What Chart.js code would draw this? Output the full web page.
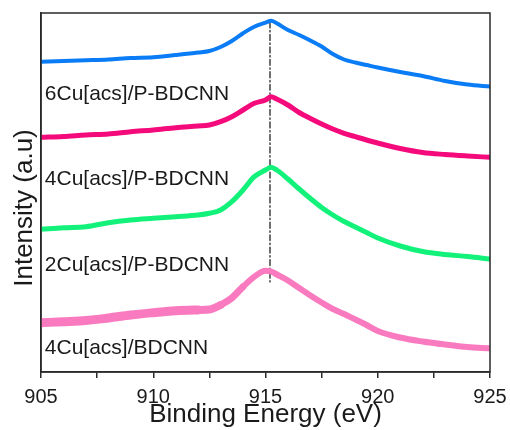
<!DOCTYPE html>
<html>
<head>
<meta charset="utf-8">
<script src="https://cdn.jsdelivr.net/npm/chart.js@4.4.1/dist/chart.umd.min.js"></script>
<style>
  html, body { margin: 0; padding: 0; background: #fff; }
  #wrap { width: 510px; height: 430px; }
</style>
</head>
<body>
<div id="wrap"><canvas id="xps"></canvas></div>
<script>
// Cu 2p XPS spectra, stacked with vertical offsets (arbitrary units)
var energy = [905, 906, 907, 908, 909, 910, 911, 912, 912.5, 913, 913.5, 914, 914.5, 915, 915.25,
              915.5, 916, 916.5, 917, 917.5, 918, 918.5, 919, 919.5, 920, 921, 922, 923, 924, 925];

var cu6P = [310.3, 311, 311.7, 312.5, 314, 314.7, 317, 319.5, 321, 325, 331, 338.7, 345.3, 349.3, 351.3,
            348.7, 342, 337, 331.5, 325.5, 318, 312.5, 309.5, 307, 304.5, 300, 296, 291, 287.5, 285.5];
var cu4P = [234.7, 235.5, 237, 238, 240.3, 242, 244.3, 246, 247, 250.3, 255.3, 262, 268.7, 272, 275.3,
            273, 267, 259.5, 253.5, 248, 243, 238.7, 235.3, 232, 229, 223.5, 219.5, 217.5, 216, 214.7];
var cu2P = [142.7, 144.3, 145.3, 149.3, 152, 153.7, 155.3, 157, 158.7, 162, 170.3, 182, 195.3, 202, 204.7,
            202, 193, 183, 173.5, 164.5, 157, 150.5, 145, 139.5, 134, 126, 120.5, 117.5, 115.5, 113];
var cu4 = [49.3, 50.3, 51.5, 54, 57, 59.3, 61.3, 62, 62.5, 67, 74, 85.3, 95.3, 101.3, 100.5,
           97.5, 91.5, 84, 76.5, 69.5, 63, 58, 52.5, 47, 41, 34.5, 30.5, 27.5, 25, 23.7];

var sampleNames = ['6Cu[acs]/P-BDCNN', '4Cu[acs]/P-BDCNN', '2Cu[acs]/P-BDCNN', '4Cu[acs]/BDCNN'];
var peakEnergy = 915.2;

function pts(ys) {
    return ys.map(function(y, i) { return { x: energy[i], y: y }; });
}

var FONT = '"Liberation Sans", Arial, sans-serif';

// sample names under each spectrum + rotated y title
var nameY = [277.7, 193, 106.3, 23.7];
var sampleLabels = {
    id: 'sampleLabels',
    afterDatasetsDraw: function(chart) {
        var ctx = chart.ctx, xs = chart.scales.x, ys = chart.scales.y;
        ctx.save();
        ctx.font = '21px ' + FONT;
        ctx.fillStyle = '#1a1a1a';
        ctx.textBaseline = 'middle';
        sampleNames.forEach(function(name, i) {
            ctx.fillText(name, xs.getPixelForValue(905.17), ys.getPixelForValue(nameY[i]));
        });
        ctx.translate(25, 208);
        ctx.rotate(-Math.PI / 2);
        ctx.textAlign = 'center';
        ctx.font = '26px ' + FONT;
        ctx.fillText('Intensity (a.u)', 0, 0);
        ctx.restore();
    }
};

// closes the frame on top and right
var frame = {
    id: 'frame',
    afterDraw: function(chart) {
        var a = chart.chartArea, ctx = chart.ctx;
        ctx.save();
        ctx.strokeStyle = '#2a2a2a';
        ctx.lineWidth = 1.5;
        ctx.strokeRect(a.left, a.top, a.right - a.left, a.bottom - a.top);
        ctx.restore();
    }
};

var ctx = document.getElementById('xps').getContext('2d');
var chart = new Chart(ctx, {
    type: 'line',
    data: {
        datasets: [
            { label: sampleNames[0], data: pts(cu6P), borderColor: '#0a7cf5', borderWidth: 4 },
            { label: sampleNames[1], data: pts(cu4P), borderColor: '#f50a7c', borderWidth: 5 },
            { label: sampleNames[2], data: pts(cu2P), borderColor: '#12f27a', borderWidth: 5 },
            { label: sampleNames[3], data: pts(cu4), borderColor: '#fa7abf', borderWidth: 6,
              segment: { borderWidth: function(c) {
                  var x = c.p0.parsed.x;
                  return x < 912 ? 9 : (x < 913 ? 8 : (x < 914 ? 7 : 6));
              } } },
            { label: 'peak', data: [{ x: peakEnergy, y: 350 }, { x: peakEnergy, y: 90 }],
              borderColor: '#111', borderWidth: 1.2, borderDash: [6, 2.5, 1.5, 2.5], tension: 0 }
        ]
    },
    options: {
        responsive: true,
        maintainAspectRatio: false,
        animation: false,
        layout: { padding: { top: 13, right: 20, left: 0, bottom: 0 } },
        elements: {
            point: { radius: 0 },
            line: { cubicInterpolationMode: 'monotone', borderCapStyle: 'round', borderJoinStyle: 'round' }
        },
        plugins: { legend: { display: false }, tooltip: { enabled: false } },
        scales: {
            x: {
                type: 'linear',
                min: 905,
                max: 925,
                afterFit: function(s) { s.height = 58; s.paddingLeft = 0; s.paddingRight = 0; },
                ticks: {
                    stepSize: 2.5,
                    autoSkip: false,
                    maxRotation: 0,
                    padding: 7,
                    color: '#1a1a1a',
                    font: { family: FONT, size: 20 },
                    callback: function(v) { return v % 5 === 0 ? v : ''; }
                },
                grid: { drawOnChartArea: false, drawTicks: true, tickLength: 6, color: '#2a2a2a', lineWidth: 1.5 },
                border: { display: true, color: '#2a2a2a', width: 1.5 },
                title: {
                    display: true,
                    text: 'Binding Energy (eV)',
                    color: '#1a1a1a',
                    padding: { top: 0, bottom: 0 },
                    font: { family: FONT, size: 26 }
                }
            },
            y: {
                min: 0,
                max: 359,
                afterFit: function(s) { s.width = 41; },
                ticks: { display: false },
                grid: { display: false },
                border: { display: true, color: '#2a2a2a', width: 1.5 }
            }
        }
    },
    plugins: [sampleLabels, frame]
});
</script>
</body>
</html>
